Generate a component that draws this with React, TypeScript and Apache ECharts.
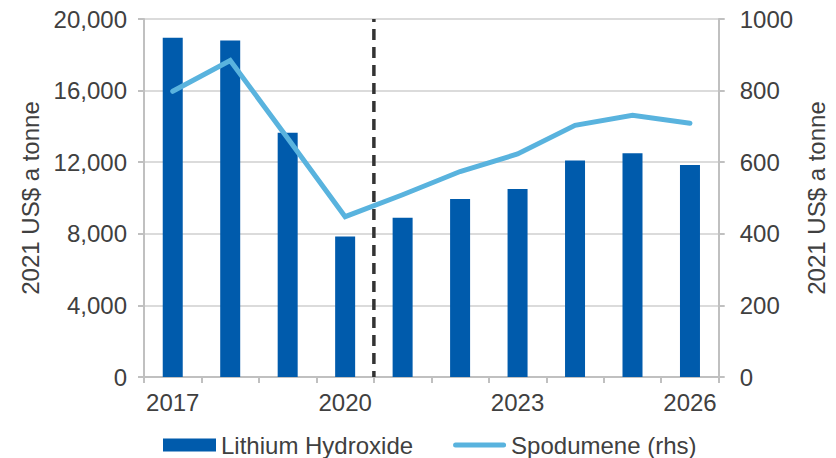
import React, { useEffect, useRef } from "react";
import * as echarts from "echarts";

const categories = ["2017", "2018", "2019", "2020", "2021", "2022", "2023", "2024", "2025", "2026"];
const lithiumHydroxide = [18950, 18800, 13650, 7850, 8900, 9950, 10500, 12100, 12500, 11850];
const spodumene = [798, 884, 667, 448, 509, 574, 623, 703, 731, 709];
const leftTicks = { min: 0, max: 20000, interval: 4000 };
const rightTicks = { min: 0, max: 1000, interval: 200 };
// forecast divider sits between 2020 and 2021 (index position 3.5)
const dividerPos = 3.5;

const FONT = "'Liberation Sans', Arial, sans-serif";
const TEXT = "#404040";
const AXIS = "#c0c0c0";
const GRID = "#cfcfcf";
const FS = 24;

export default function App() {
  const ref = useRef<HTMLDivElement>(null);
  useEffect(() => {
    if (!ref.current) return;
    const chart = echarts.init(ref.current, undefined, { renderer: "svg" });
    chart.setOption({
      animation: false,
      backgroundColor: "#ffffff",
      textStyle: { fontFamily: FONT },
      grid: { left: 144, right: 115, top: 19, bottom: 81, containLabel: false },
      legend: {
        data: [
          { name: "Lithium Hydroxide", icon: "rect" },
          {
            name: "Spodumene (rhs)",
            icon: "path://M2.5,0 L50.5,0 A2.5,2.5 0 0 1 50.5,5 L2.5,5 A2.5,2.5 0 0 1 2.5,0 Z",
          },
        ],
        left: 163,
        top: 433,
        padding: 0,
        itemWidth: 53,
        itemHeight: 13,
        itemGap: 40,
        textStyle: { fontSize: FS, color: TEXT, fontFamily: FONT },
      },
      xAxis: [
        {
          type: "category",
          data: categories,
          boundaryGap: true,
          axisLine: { show: true, onZero: false, lineStyle: { color: AXIS, width: 2 } },
          axisTick: { show: true, interval: 0, length: 6, lineStyle: { color: AXIS, width: 2 } },
          axisLabel: { interval: 2, color: TEXT, fontSize: FS, margin: 13, fontFamily: FONT },
          splitLine: { show: false },
        },
        {
          type: "value",
          min: -0.5,
          max: 9.5,
          show: false,
          position: "bottom",
          axisLine: { onZero: false },
        },
      ],
      yAxis: [
        {
          type: "value",
          min: leftTicks.min,
          max: leftTicks.max,
          interval: leftTicks.interval,
          name: "2021 US$ a tonne",
          nameLocation: "middle",
          nameGap: 100,
          nameTextStyle: { fontSize: FS, color: TEXT, fontFamily: FONT },
          axisLine: { show: true, onZero: false, lineStyle: { color: AXIS, width: 2 } },
          axisTick: { show: true, length: 6, lineStyle: { color: AXIS, width: 2 } },
          axisLabel: {
            color: TEXT,
            fontSize: FS,
            margin: 17,
            fontFamily: FONT,
            formatter: (v: number) => v.toLocaleString("en-US"),
          },
          splitLine: { show: true, lineStyle: { color: GRID, width: 1.5 } },
        },
        {
          type: "value",
          position: "right",
          min: rightTicks.min,
          max: rightTicks.max,
          interval: rightTicks.interval,
          name: "2021 US$ a tonne",
          nameLocation: "middle",
          nameRotate: 90,
          nameGap: 84,
          nameTextStyle: { fontSize: FS, color: TEXT, fontFamily: FONT },
          axisLine: { show: true, onZero: false, lineStyle: { color: AXIS, width: 2 } },
          axisTick: { show: true, length: 6, lineStyle: { color: AXIS, width: 2 } },
          axisLabel: {
            color: TEXT,
            fontSize: FS,
            margin: 21,
            fontFamily: FONT,
            formatter: (v: number) => String(v),
          },
          splitLine: { show: false },
        },
      ],
      series: [
        {
          name: "Lithium Hydroxide",
          type: "bar",
          xAxisIndex: 0,
          yAxisIndex: 0,
          data: lithiumHydroxide,
          barWidth: 20,
          itemStyle: { color: "#005BAC" },
          z: 2,
        },
        {
          name: "divider",
          type: "line",
          xAxisIndex: 1,
          yAxisIndex: 0,
          data: [
            [dividerPos, leftTicks.min],
            [dividerPos, leftTicks.max],
          ],
          symbol: "none",
          lineStyle: { color: "#333333", width: 3.5, type: [11, 7], dashOffset: 5 },
          z: 3,
          silent: true,
        },
        {
          name: "Spodumene (rhs)",
          type: "line",
          xAxisIndex: 0,
          yAxisIndex: 1,
          data: spodumene,
          symbol: "none",
          lineStyle: { color: "#59B3DE", width: 5, cap: "round", join: "miter" },
          itemStyle: { color: "#59B3DE" },
          z: 4,
        },
      ],
    });
    return () => chart.dispose();
  }, []);
  return (
    <div
      ref={ref}
      style={{ position: "fixed", left: 0, top: 0, width: 836, height: 458, background: "#fff" }}
    />
  );
}
